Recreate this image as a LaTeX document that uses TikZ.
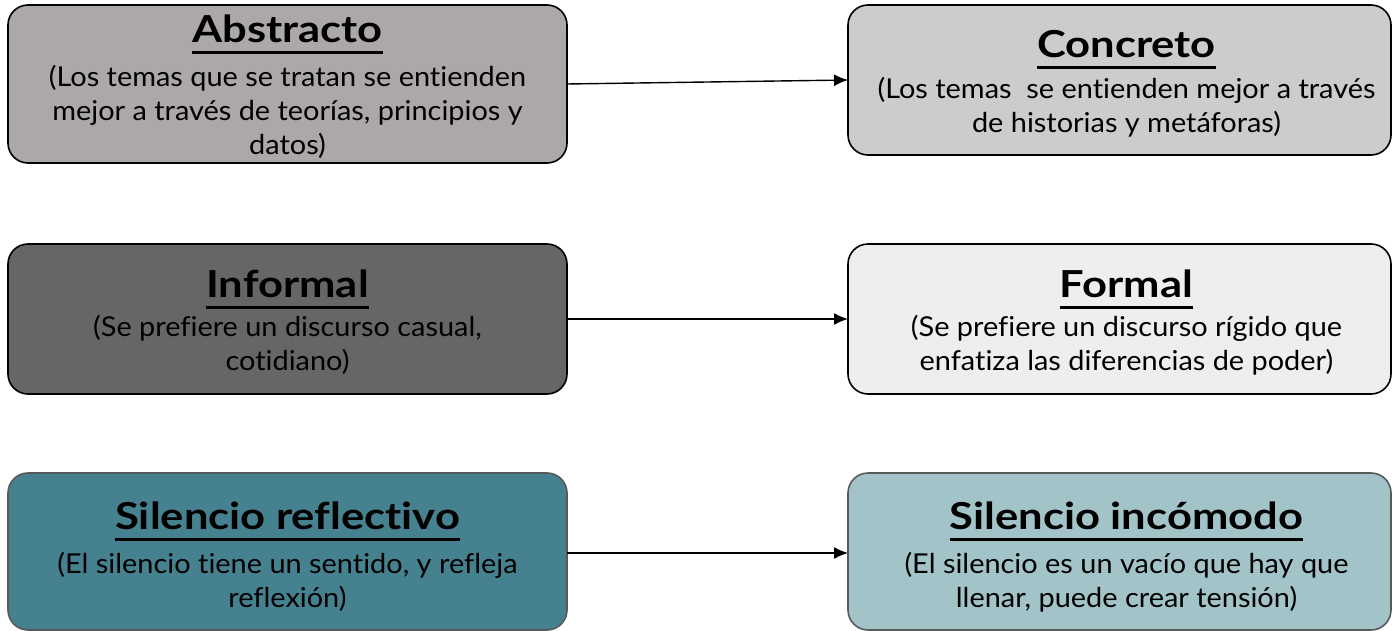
\documentclass[tikz,border=0pt]{standalone}
\usepackage{fontspec}
\setmainfont{Lato}[FakeStretch=1.055,Ligatures=NoCommon]
\newfontfamily\ttlfont{Lato}[FakeStretch=1.17,Ligatures=NoCommon]
\usetikzlibrary{arrows.meta}
\definecolor{cabs}{HTML}{ABA8A7}
\definecolor{ccon}{HTML}{CCCCCC}
\definecolor{cinf}{HTML}{666666}
\definecolor{cfor}{HTML}{EEEEEE}
\definecolor{csr}{HTML}{45818E}
\definecolor{csi}{HTML}{A2C4C9}
\definecolor{cgb}{HTML}{595959}
\newcommand{\ttl}[1]{\setbox0\hbox{#1}\rlap{\smash{\raisebox{-6.05pt}{\rule{\wd0}{1.5pt}}}}\box0}
\begin{document}
\begin{tikzpicture}[x=0.5pt,y=-0.5pt,
  boxbg/.style={draw=black,line width=0.8pt,rounded corners=10pt},
  ttltxt/.style={anchor=base,font=\ttlfont\bfseries\fontsize{18.6}{22}\selectfont,text=black,inner sep=0pt},
  boxtxt/.style={anchor=base,align=center,font=\fontsize{13.7}{17}\selectfont,text=black,inner sep=0pt},
  conn/.style={-{Latex[length=7pt,width=6pt]},line width=0.7pt}]
\useasboundingbox (0,0) rectangle (1392,631);
% boxes
\draw[boxbg,fill=cabs] (8,5) rectangle (567,163);
\draw[boxbg,fill=ccon] (848,5) rectangle (1391,155);
\draw[boxbg,fill=cinf] (8,244) rectangle (567,394);
\draw[boxbg,fill=cfor] (848,244) rectangle (1391,394);
\draw[boxbg,draw=cgb,fill=csr] (8,473) rectangle (567,630);
\draw[boxbg,draw=cgb,fill=csi] (848,473) rectangle (1391,630);
% anchors
\coordinate (abs) at (567,84);
\coordinate (con) at (848,80);
\coordinate (inf) at (567,319);
\coordinate (for) at (848,319);
\coordinate (sr) at (567,553);
\coordinate (si) at (848,553);
% titles
\node[ttltxt] (habs) at (287.5,42.3) {\ttl{Abstracto}};
\node[ttltxt] (hcon) at (1126.5,57.3) {\ttl{Concreto}};
\node[ttltxt] (hinf) at (287.5,297) {\ttl{Informal}};
\node[ttltxt] (hfor) at (1126.5,297) {\ttl{Formal}};
\node[ttltxt] (hsr) at (287.5,529.3) {\ttl{Silencio reflectivo}};
\node[ttltxt] (hsi) at (1126.5,529.3) {\ttl{Silencio incómodo}};
% bodies (anchored at the baseline of the last line)
\node[boxtxt] (tabs) at (287.5,154.7) {(Los temas que se tratan se entienden\\mejor a través de teorías, principios y\\datos)};
\node[boxtxt] (tcon) at (1126.5,132.3) {(Los temas\ \ se entienden mejor a través\\de historias y metáforas)};
\node[boxtxt] (tinf) at (287.5,370.7) {(Se prefiere un discurso casual,\\cotidiano)};
\node[boxtxt] (tfor) at (1126.5,370.7) {(Se prefiere un discurso rígido que\\enfatiza las diferencias de poder)};
\node[boxtxt] (tsr) at (287.5,607.3) {(El silencio tiene un sentido, y refleja\\reflexión)};
\node[boxtxt] (tsi) at (1126.5,607.3) {(El silencio es un vacío que hay que\\llenar, puede crear tensión)};
% connectors
\draw[conn] (abs) -- (con);
\draw[conn] (inf) -- (for);
\draw[conn] (sr) -- (si);
\end{tikzpicture}
\end{document}
